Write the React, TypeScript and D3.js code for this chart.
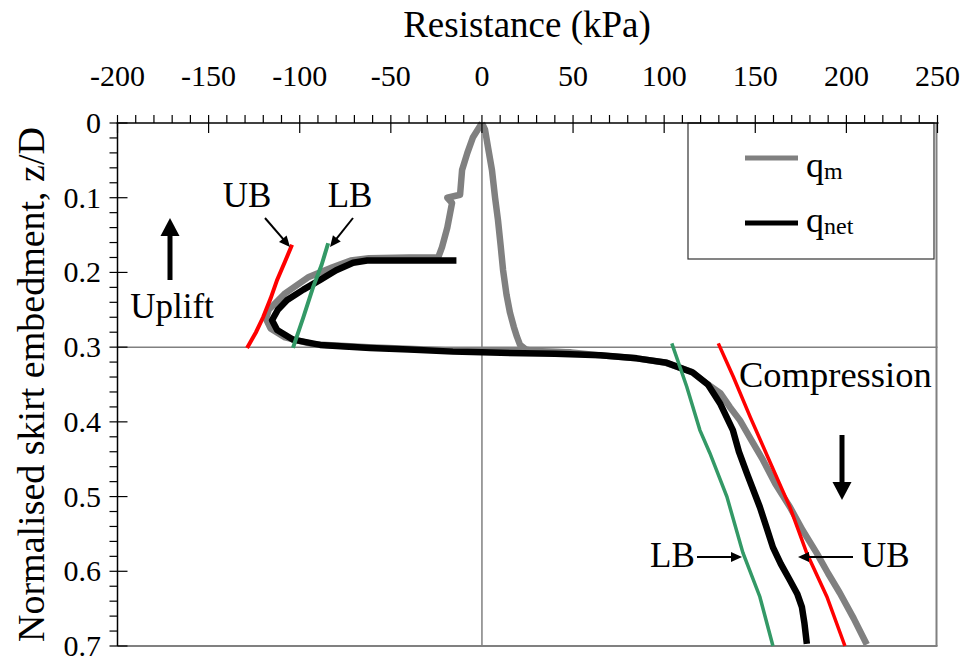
import React from "react";
import * as d3 from "d3";

type P = [number, number];

// x: resistance (kPa), y: normalised skirt embedment z/D
const xTicks = [-200, -150, -100, -50, 0, 50, 100, 150, 200, 250];
const yTicks = [0, 0.1, 0.2, 0.3, 0.4, 0.5, 0.6, 0.7];

const qmPenetration: P[] = [
  [0, 0], [1.7, 0.009], [3.5, 0.035], [5.5, 0.063], [7.2, 0.1], [8.8, 0.13], [10.3, 0.165],
  [11.6, 0.197], [13.5, 0.23], [15.4, 0.254], [17.5, 0.273], [19.2, 0.286], [20.9, 0.297],
  [24, 0.303], [30, 0.306], [49, 0.307],
];

const qmMain: P[] = [
  [0, 0], [-4.9, 0.019], [-8, 0.04], [-10.9, 0.063], [-12, 0.096], [-19, 0.1], [-16.4, 0.107],
  [-19, 0.14], [-21.9, 0.166], [-24, 0.18], [-40, 0.18], [-62, 0.181], [-72, 0.184],
  [-82, 0.193], [-95, 0.206], [-108, 0.228], [-117, 0.25], [-118.5, 0.262], [-116, 0.275],
  [-108, 0.287], [-93, 0.296], [-62, 0.3], [-20, 0.304], [0, 0.305], [30, 0.305], [49, 0.307],
  [65, 0.311], [85, 0.315], [101, 0.321], [115, 0.333], [124, 0.35], [131, 0.362],
  [136, 0.38], [141.6, 0.398], [148, 0.425], [154.2, 0.451], [161, 0.483], [169, 0.514],
  [176, 0.545], [183.8, 0.576], [190, 0.603], [196.4, 0.629], [204, 0.663], [211.2, 0.698],
];

const qnet: P[] = [
  [-14, 0.184], [-40, 0.184], [-63, 0.184], [-70.7, 0.187], [-80, 0.197], [-88.8, 0.21],
  [-98, 0.223], [-106.9, 0.237], [-112, 0.25], [-115.2, 0.264], [-112.4, 0.277],
  [-103.6, 0.29], [-88.8, 0.297], [-61.4, 0.301], [-40, 0.303], [-16, 0.306], [0, 0.307],
  [40, 0.309], [65, 0.311], [85, 0.315], [101.5, 0.321], [115.7, 0.334], [124, 0.35],
  [130.6, 0.375], [137.7, 0.411], [141, 0.44], [145.4, 0.469], [152.5, 0.514], [156, 0.54],
  [159.7, 0.568], [164, 0.59], [169, 0.612], [173, 0.63], [175.6, 0.648], [177, 0.67],
  [178.3, 0.697],
];

const ubUplift: P[] = [
  [-104.2, 0.163], [-108, 0.185], [-112.4, 0.21], [-116, 0.235], [-120.1, 0.26], [-124, 0.28], [-128.9, 0.301],
];
const lbUplift: P[] = [
  [-84.4, 0.161], [-88, 0.19], [-92.7, 0.22], [-98, 0.26], [-103.7, 0.301],
];
const ubCompression: P[] = [
  [129.7, 0.295], [138, 0.34], [147.3, 0.394], [158.3, 0.455], [169, 0.514], [178.3, 0.576], [189.3, 0.634], [199.2, 0.7],
];
const lbCompression: P[] = [
  [104.2, 0.295], [112.4, 0.353], [119.6, 0.411], [125.1, 0.442], [134.4, 0.5], [143.2, 0.575], [152.5, 0.634], [159.7, 0.7],
];

const W = 965;
const H = 663;
const L = 117.5, R = 937.5, T = 123, B = 646;
const FONT = "'Liberation Serif', 'Times New Roman', serif";

export default function App() {
  const x = d3.scaleLinear().domain([-200, 250]).range([L, R]);
  const y = d3.scaleLinear().domain([0, 0.7]).range([T, B]);
  const line = d3.line<P>().x((d) => x(d[0])).y((d) => y(d[1]));

  const xMinor = d3.range(-200, 251, 10);
  const yMinor = d3.range(0, 0.7001, 0.02);

  const arrowHead = (x1: number, y1: number, x2: number, y2: number, len: number, half: number) => {
    const a = Math.atan2(y2 - y1, x2 - x1);
    const bx = x2 - len * Math.cos(a), by = y2 - len * Math.sin(a);
    const px = -Math.sin(a) * half, py = Math.cos(a) * half;
    return `M${x2},${y2}L${bx + px},${by + py}L${bx - px},${by - py}Z`;
  };

  const thinArrow = (x1: number, y1: number, x2: number, y2: number) => {
    const a = Math.atan2(y2 - y1, x2 - x1);
    return (
      <g>
        <line x1={x1} y1={y1} x2={x2 - 8 * Math.cos(a)} y2={y2 - 8 * Math.sin(a)} stroke="#000" strokeWidth={2} />
        <path d={arrowHead(x1, y1, x2, y2, 11, 5)} fill="#000" />
      </g>
    );
  };

  const bigArrow = (x0: number, y1: number, y2: number) => {
    const dir = Math.sign(y2 - y1);
    return (
      <g>
        <line x1={x0} y1={y1} x2={x0} y2={y2 - dir * 14} stroke="#000" strokeWidth={5} />
        <path d={arrowHead(x0, y1, x0, y2, 18, 9.5)} fill="#000" />
      </g>
    );
  };

  return (
    <svg width={W} height={H} style={{ position: "absolute", left: 0, top: 0, background: "#fff" }} fontFamily={FONT}>
      <rect x={0} y={0} width={W} height={H} fill="#fff" />
      {/* plot border (right/bottom grey) */}
      <line x1={R - 1} y1={T} x2={R - 1} y2={B} stroke="#808080" strokeWidth={2} />
      <line x1={L} y1={B} x2={R} y2={B} stroke="#808080" strokeWidth={2} />
      {/* reference lines */}
      <line x1={x(0)} y1={T} x2={x(0)} y2={B} stroke="#808080" strokeWidth={1.5} />
      <line x1={L} y1={y(0.3)} x2={R} y2={y(0.3)} stroke="#808080" strokeWidth={1.5} />

      {/* legend */}
      <rect x={688} y={T} width={246} height={136} fill="#fff" stroke="#333" strokeWidth={1.2} />
      <line x1={745} y1={158} x2={798} y2={158} stroke="#808080" strokeWidth={5} />
      <line x1={745} y1={223} x2={798} y2={223} stroke="#000" strokeWidth={5} />
      <text x={806} y={177} fontSize={36}>q<tspan fontSize={24} dy={2}>m</tspan></text>
      <text x={806} y={232} fontSize={36}>q<tspan fontSize={24} dy={2}>net</tspan></text>

      {/* data */}
      <path d={line(qmPenetration) || ""} fill="none" stroke="#808080" strokeWidth={6.5} strokeLinejoin="round" />
      <path d={line(qmMain) || ""} fill="none" stroke="#808080" strokeWidth={6.5} strokeLinejoin="round" />
      <path d={line(qnet) || ""} fill="none" stroke="#000" strokeWidth={6.5} strokeLinejoin="round" />
      <path d={line(ubUplift) || ""} fill="none" stroke="#ff0000" strokeWidth={4} />
      <path d={line(lbUplift) || ""} fill="none" stroke="#339966" strokeWidth={4} />
      <path d={line(ubCompression) || ""} fill="none" stroke="#ff0000" strokeWidth={3.5} />
      <path d={line(lbCompression) || ""} fill="none" stroke="#339966" strokeWidth={3.5} />

      {/* axes */}
      <line x1={L - 1} y1={T} x2={R + 1} y2={T} stroke="#000" strokeWidth={1.5} />
      <line x1={L} y1={T} x2={L} y2={B} stroke="#000" strokeWidth={1.5} />
      {xMinor.map((v) => (
        <line key={"xm" + v} x1={x(v)} x2={x(v)} y1={T - 8} y2={v % 50 === 0 ? T + 10 : T} stroke="#000" strokeWidth={1.2} />
      ))}
      {yMinor.map((v, i) => (
        <line key={"ym" + i} y1={y(v)} y2={y(v)} x1={L - 8} x2={i % 5 === 0 ? L + 10 : L} stroke="#000" strokeWidth={1.2} />
      ))}
      {xTicks.map((v) => (
        <text key={"xt" + v} x={x(v)} y={86} fontSize={30} textAnchor="middle">{v}</text>
      ))}
      {yTicks.map((v) => (
        <text key={"yt" + v} x={101} y={y(v) + 10} fontSize={30} textAnchor="end">{v}</text>
      ))}
      <text x={527} y={37} fontSize={37} textAnchor="middle">Resistance (kPa)</text>
      <text transform={`translate(44,${(T + B) / 2}) rotate(-90)`} fontSize={38} textAnchor="middle">
        Normalised skirt embedment, z/D
      </text>

      {/* annotations */}
      <text x={247} y={207} fontSize={35} textAnchor="middle">UB</text>
      <text x={350} y={207} fontSize={35} textAnchor="middle">LB</text>
      {thinArrow(265, 218, 290, 247)}
      {thinArrow(353, 218, 330, 247)}
      {bigArrow(170, 280, 218)}
      <text x={172} y={318} fontSize={35} textAnchor="middle">Uplift</text>
      <text x={739} y={387} fontSize={36.5}>Compression</text>
      {bigArrow(842, 435, 500)}
      <text x={650} y={567} fontSize={35}>LB</text>
      {thinArrow(697, 557, 742, 557)}
      <text x={861} y={567} fontSize={35}>UB</text>
      {thinArrow(853, 557, 798, 557)}
    </svg>
  );
}
